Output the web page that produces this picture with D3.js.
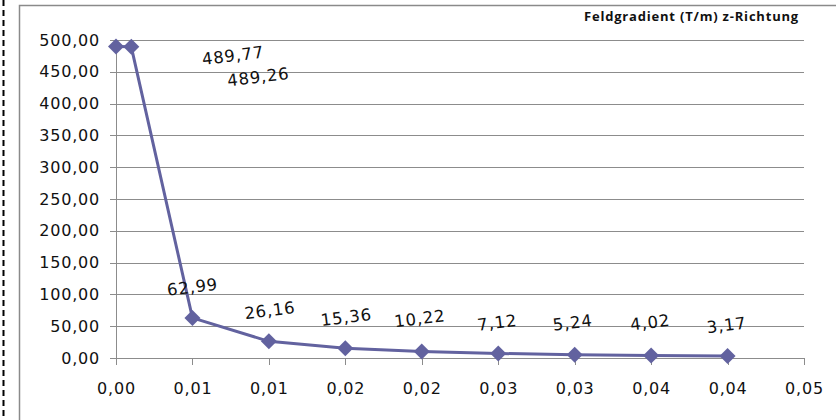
<!DOCTYPE html>
<html>
<head>
<meta charset="utf-8">
<script src="https://cdn.jsdelivr.net/npm/d3@7"></script>
<style>
  html, body { margin: 0; padding: 0; background: #fff; }
  svg { display: block; }
</style>
</head>
<body>
<svg id="chart" width="836" height="420"></svg>
<script>
// Field gradient along z, sampled at distances (m)
const distances = [0, 0.001, 0.005, 0.01, 0.015, 0.02, 0.025, 0.03, 0.035, 0.04];
const gradients = [489.77, 489.26, 62.99, 26.16, 15.36, 10.22, 7.12, 5.24, 4.02, 3.17];
const xTicks = [0, 0.005, 0.01, 0.015, 0.02, 0.025, 0.03, 0.035, 0.04, 0.045];
const yTicks = [0, 50, 100, 150, 200, 250, 300, 350, 400, 450, 500];
const chartTitle = "Feldgradient (T/m) z-Richtung";

// two decimals, half rounded up, decimal comma
const fmt = v => (Math.round(v * 100 + 1e-7) / 100).toFixed(2).replace(".", ",");

const svg = d3.select("#chart");
const x = d3.scaleLinear().domain([0, 0.045]).range([116, 804]);
const y = d3.scaleLinear().domain([0, 500]).range([358, 40]);

const gridColor = "#8c8c8c";
const seriesColor = "#62629f";
const font = "'DejaVu Sans', sans-serif";

// dashed outline on the far left
svg.append("line")
  .attr("x1", 3.5).attr("x2", 3.5).attr("y1", 0).attr("y2", 420)
  .attr("stroke", "#000").attr("stroke-width", 2)
  .attr("stroke-dasharray", "6,4");

// chart frame
svg.append("path")
  .attr("d", "M19.5,420 V5.5 H836")
  .attr("fill", "none").attr("stroke", "#8a8a8a").attr("stroke-width", 1.5);

// horizontal gridlines with outside ticks
const yAxis = d3.axisLeft(y).tickValues(yTicks).tickSize(-(804 - 116)).tickSizeOuter(0)
  .tickPadding(10).tickFormat(fmt);
const gy = svg.append("g").attr("transform", "translate(116,0)").call(yAxis);
gy.select(".domain").remove();
gy.selectAll(".tick line")
  .attr("x1", -6).attr("stroke", gridColor).attr("stroke-width", 1)
  .attr("shape-rendering", "crispEdges");
gy.selectAll(".tick text")
  .attr("x", -16)
  .style("font-family", font).style("font-size", "16px")
  .style("letter-spacing", "0.8px").attr("fill", "#111");

// vertical axis line
svg.append("line")
  .attr("x1", 116).attr("x2", 116).attr("y1", y(500)).attr("y2", 364)
  .attr("stroke", gridColor).attr("stroke-width", 1).attr("shape-rendering", "crispEdges");

// horizontal axis ticks and labels
const xAxis = d3.axisBottom(x).tickValues(xTicks).tickSize(7).tickSizeOuter(0)
  .tickPadding(18).tickFormat(fmt);
const gx = svg.append("g").attr("transform", `translate(0,${y(0)})`).call(xAxis);
gx.select(".domain").remove();
gx.selectAll(".tick line").attr("stroke", gridColor).attr("shape-rendering", "crispEdges");
gx.selectAll(".tick text")
  .style("font-family", font).style("font-size", "16px")
  .style("letter-spacing", "0.8px").attr("fill", "#111");

// series line
const pts = distances.map((d, i) => ({ x: d, v: gradients[i] }));
svg.append("path")
  .datum(pts)
  .attr("d", d3.line().x(d => x(d.x)).y(d => y(d.v)))
  .attr("fill", "none").attr("stroke", seriesColor).attr("stroke-width", 3)
  .attr("stroke-linejoin", "round");

// diamond markers
svg.selectAll(".marker").data(pts).join("path")
  .attr("class", "marker")
  .attr("transform", d => `translate(${x(d.x)},${y(d.v)})`)
  .attr("d", "M0,-8 L8,0 L0,8 L-8,0 Z")
  .attr("fill", seriesColor);

// value labels, slightly tilted; the first two are moved off to the right
const labelOffsets = [[117, 9], [127, 30], [0, -31], [1, -31], [1, -31], [-2, -33], [-1, -31], [-2, -32], [-1, -33], [-1, -31]];
svg.selectAll(".vlabel").data(pts).join("text")
  .attr("class", "vlabel")
  .attr("transform", (d, i) => `translate(${x(d.x) + labelOffsets[i][0]},${y(d.v) + labelOffsets[i][1]}) rotate(-7)`)
  .attr("text-anchor", "middle").attr("dy", "0.35em")
  .style("font-family", font).style("font-size", "16.5px")
  .style("letter-spacing", "0.8px").attr("fill", "#111")
  .text(d => fmt(d.v));

// title
svg.append("text")
  .attr("x", 799).attr("y", 21)
  .attr("text-anchor", "end")
  .style("font-family", "'Open Sans', sans-serif").style("font-size", "13px")
  .style("font-weight", "bold").style("letter-spacing", "0.8px")
  .attr("fill", "#111")
  .text(chartTitle);
</script>
</body>
</html>
